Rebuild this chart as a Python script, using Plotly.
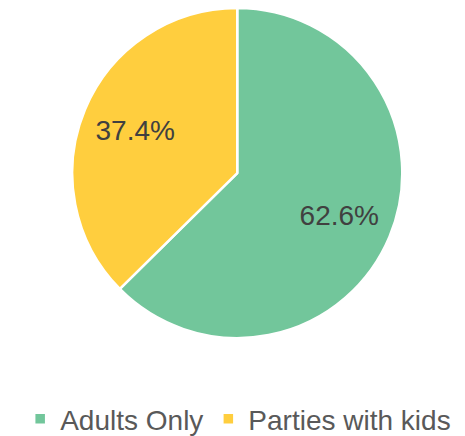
import plotly.graph_objects as go

labels = ["Adults Only", "Parties with kids"]
values = [62.6, 37.4]
colors = ["#72C69B", "#FFCE3E"]

dom = dict(x=[0.138, 0.848], y=[0.243, 1.0])

fig = go.Figure()
fig.add_trace(go.Pie(
    labels=labels,
    values=values,
    sort=False,
    direction="clockwise",
    rotation=0,
    marker=dict(colors=colors, line=dict(color="white", width=2.5)),
    textinfo="none",
    domain=dom,
    hoverinfo="label+percent",
))
# text-only ring overlay to place labels at ~2/3 radius
fig.add_trace(go.Pie(
    labels=labels,
    values=values,
    sort=False,
    direction="clockwise",
    rotation=0,
    hole=0.34,
    marker=dict(colors=["rgba(0,0,0,0)"] * len(values), line=dict(width=0)),
    texttemplate="%{value:.1f}%",
    textposition="inside",
    insidetextorientation="horizontal",
    textfont=dict(family="Liberation Sans, Arial", size=28, color="#404040"),
    domain=dom,
    showlegend=False,
    hoverinfo="skip",
))

fig.update_layout(
    width=465, height=436,
    margin=dict(l=0, r=0, t=0, b=0),
    paper_bgcolor="white",
    plot_bgcolor="white",
    font=dict(family="Liberation Sans, Arial", size=28, color="#595959"),
    legend=dict(orientation="h", x=0.495, xanchor="center", y=0.0, yanchor="bottom",
                font=dict(size=28, color="#595959"), itemwidth=30),
)

fig.write_html("out.html")
